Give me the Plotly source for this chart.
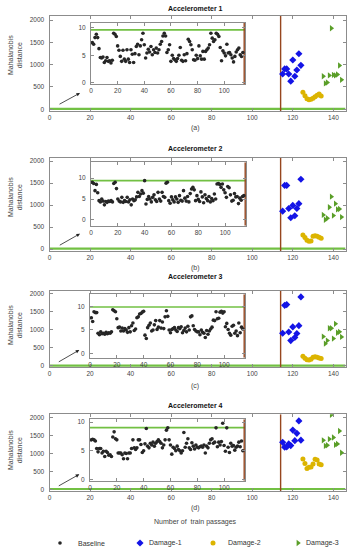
import plotly.graph_objects as go

W, H = 351, 550

# ---------------- data ----------------
baseline_x = list(range(1, 115))
baseline = [
    [7.3, 7.0, 8.2, 8.8, 8.2,
     6.2, 4.6, 4.5, 4.7, 3.7, 4.0, 4.6, 3.9, 4.0, 3.6, 4.1,
     9.0, 8.8, 8.4, 6.7,
     5.9, 4.8, 3.9, 5.9, 4.3, 3.9, 6.0, 4.3, 3.7, 6.0,
     5.2, 3.7, 5.3, 6.6, 7.0, 5.1, 6.7, 7.8, 9.0, 6.9,
     4.5, 5.4, 6.1, 5.6, 6.6, 5.1, 6.0, 5.5, 6.3, 5.4,
     6.0, 7.0, 7.5, 8.5, 9.0, 8.5, 5.5, 6.0, 6.9, 3.9,
     5.0, 4.4, 4.2, 3.9, 4.4, 5.0, 6.4, 4.1, 3.9, 5.1,
     4.0, 5.3, 7.9, 7.5, 6.9, 6.0, 4.2, 4.1, 5.0, 4.4,
     6.7, 4.9, 4.3, 5.7, 4.3, 5.7, 6.0, 6.3, 6.9, 9.0,
     8.1, 7.5, 7.8, 9.0, 8.8, 8.4, 6.4, 4.0, 5.8, 5.4,
     4.9, 7.0, 5.4, 5.5, 5.1, 4.5, 3.8, 4.8, 5.6, 6.0, 6.3, 5.1, 4.8, 5.5],
    [9.0, 8.7, 7.0, 8.5, 6.5,
     4.6, 4.3, 5.0, 4.5, 3.6, 4.4, 4.2, 4.5, 4.4, 4.6, 4.3,
     8.7, 9.0, 7.5, 5.0,
     4.5, 4.3, 5.4, 4.2, 4.6, 4.4, 5.4, 4.3, 4.8, 3.6,
     5.0, 4.6, 4.8, 5.5, 6.6, 5.6, 6.2, 7.0, 6.4, 9.4,
     3.8, 4.9, 5.6, 5.0, 4.3, 5.4, 6.0, 4.8, 4.4, 6.6,
     5.0, 4.5, 6.6, 5.6, 5.4, 8.8, 9.0, 4.6, 4.0, 5.5,
     4.8, 4.3, 5.5, 5.0, 4.2, 5.8, 4.7, 4.5, 7.0, 5.2,
     4.5, 5.6, 4.3, 6.3, 7.4, 7.8, 7.2, 4.6, 5.8, 4.9,
     4.4, 6.7, 5.5, 4.1, 6.0, 5.1, 4.6, 5.6, 4.3, 5.1,
     4.6, 6.2, 5.0, 8.6, 8.7, 8.5, 7.8, 8.6, 7.2, 6.5,
     5.4, 8.0, 7.7, 6.0, 4.5, 4.7, 6.3, 5.5, 5.6, 3.9, 5.2, 4.7, 5.6, 5.8],
    [7.6, 6.8, 8.9, 8.7, 8.7,
     4.3, 4.0, 4.6, 4.2, 4.3, 4.1, 4.5, 4.2, 4.4, 4.3, 4.6,
     9.3, 9.1, 8.9, 7.4,
     5.5, 5.6, 4.8, 5.4, 4.8, 5.3, 5.0, 4.5, 5.5, 4.6,
     5.9, 6.5, 4.9, 5.2, 7.6, 7.8, 8.4, 8.5, 8.8, 9.0,
     3.9, 3.2, 5.5, 6.0, 6.5, 4.8, 5.0, 6.1, 7.0, 5.1,
     5.6, 7.0, 5.4, 6.7, 5.3, 7.8, 9.1, 7.9, 5.0, 4.4,
     5.1, 5.3, 5.5, 5.0, 4.7, 5.5, 5.3, 5.7, 4.4, 4.9,
     5.4, 4.6, 5.8, 5.0, 7.8, 8.0, 5.9, 5.1, 4.8, 4.6,
     4.6, 4.0, 5.0, 4.5, 4.3, 3.4, 4.9, 4.1, 4.8, 5.2,
     5.6, 7.1, 7.0, 8.9, 7.4, 7.5, 8.8, 9.0, 8.6, 8.9,
     5.7, 6.4, 5.1, 4.3, 3.9, 5.8, 6.0, 4.3, 4.8, 3.8, 6.5, 4.4, 5.6, 5.2],
    [6.9, 7.0, 6.9, 6.7, 5.4,
     4.8, 5.4, 5.4, 4.6, 4.9, 4.0, 4.9, 4.7, 4.2, 4.3, 4.0,
     7.4, 8.3, 7.1, 6.9,
     4.6, 4.6, 4.6, 4.3, 3.6, 4.6, 4.5, 3.6, 4.6, 4.6,
     5.4, 6.9, 5.5, 5.2, 5.5, 6.9, 6.9, 6.1, 4.7, 5.0,
     6.2, 8.9, 5.8, 5.5, 6.3, 6.0, 6.5, 5.8, 6.3, 6.6,
     6.9, 6.6, 6.3, 5.5, 6.0, 6.9, 8.6, 9.0, 6.9, 6.0,
     4.4, 5.6, 5.4, 5.0, 5.8, 5.2, 5.0, 4.6, 5.0, 8.2,
     5.6, 6.3, 7.1, 5.5, 5.2, 6.4, 5.8, 5.3, 6.0, 5.6,
     5.5, 5.7, 5.8, 5.6, 6.0, 4.6, 5.8, 5.5, 6.3, 6.9,
     7.1, 6.3, 6.5, 9.0, 5.7, 6.5, 6.0, 6.6, 9.8, 5.9,
     4.9, 9.0, 5.6, 4.7, 6.3, 5.8, 5.9, 5.1, 5.6, 5.8, 6.5, 5.7, 6.7, 5.0],
]

damage1_x = [115, 116, 117, 118, 119, 120, 121, 122, 123, 124]
damage2_x = [125, 126, 127, 128, 129, 130, 131, 132, 133, 134]
damage3_x = [135, 136, 137, 138, 139, 140, 141, 142, 143, 144]

damage1 = [
    [790, 905, 905, 790, 630, 1105, 740, 880, 1245, 985],
    [860, 1445, 1445, 920, 710, 990, 755, 920, 1030, 1585],
    [900, 1670, 1690, 935, 700, 1075, 785, 895, 1110, 1900],
    [1305, 1170, 1175, 1260, 1215, 1645, 1350, 1555, 1900, 1365],
]
damage2 = [
    [380, 305, 235, 215, 225, 250, 280, 315, 345, 300],
    [320, 260, 200, 175, 185, 290, 300, 290, 270, 245],
    [265, 210, 170, 165, 185, 240, 255, 240, 220, 205],
    [840, 715, 580, 610, 620, 700, 835, 815, 700, 680],
]
damage3 = [
    [740, 580, 600, 760, 1815, 770, 760, 780, 980, 660],
    [775, 665, 700, 950, 1190, 760, 1030, 900, 910, 725],
    [810, 615, 700, 1040, 1040, 755, 1160, 915, 940, 800],
    [1360, 1205, 1225, 1395, 2070, 1440, 1235, 1260, 1620, 1015],
]

thresholds = [9.6, 9.4, 9.9, 9.05]
change_main = 114
change_inset = 115
titles = ["Accelerometer 1", "Accelerometer 2", "Accelerometer 3", "Accelerometer 4"]
sublabels = ["(a)", "(b)", "(c)", "(d)"]
main_xticks = [0, 20, 40, 60, 80, 100, 120, 140]
main_yticks = [0, 500, 1000, 1500, 2000]
inset_xticks = [0, 20, 40, 60, 80, 100]
inset_yticks = [0, 5, 10]
legend_names = ["Baseline", "Damage-1", "Damage-2", "Damage-3"]

# ---------------- layout geometry (pixels) ----------------
main_x_px = (49.5, 345.5)
main_y_px = [(16, 111), (157.7, 251), (290.7, 367.3), (414.3, 491)]
main_yrange = [[-38, 2090], [-45, 2075], [-36, 2072], [-47, 2083]]
inset_x_px = [(91, 245), (91, 246), (90, 245), (90, 245)]
inset_y_px = [(22.7, 84), (162.3, 225.7), (294.3, 357.7), (419.3, 480.7)]
inset_yrange = [[-0.2, 10.9], [-1.4, 13.8], [-0.9, 12.6], [-0.25, 10.5]]
title_y_px = [9, 148.5, 276, 405.5]
sub_y_px = [128, 268, 386, 508]
ytitle_y_px = [55, 197, 325, 450]
arrow_px = [((80, 93), (58, 105)), ((80, 233.7), (58.3, 246)),
            ((79.3, 350), (57.3, 362.7)), ((79.3, 474.3), (57.3, 486.7))]
legend_marker_px = [60, 140, 213, 298]
legend_text_px = [76, 147, 226, 304]
legend_y_px = 543


def fx(p):
    return p / W


def fy(p):
    return 1 - p / H


FONT = "Liberation Sans, Arial, sans-serif"
C_BASE = "#262626"
C_D1 = "#1414e6"
C_D2 = "#dcb400"
C_D3 = "#5a9e28"
C_GREEN = "#72c043"
C_BROWN = "#96461e"
AX_COL = "#8c8c8c"

fig = go.Figure()
layout = dict(
    width=W, height=H,
    margin=dict(l=0, r=0, t=0, b=0, autoexpand=False),
    paper_bgcolor="white", plot_bgcolor="white",
    font=dict(family=FONT, size=7, color="#333"),
    showlegend=False,
)
annotations = []

for i in range(4):
    m = i + 1          # main axis index
    n = i + 5          # inset axis index
    mx, my = f"x{m}", f"y{m}"
    ix, iy = f"x{n}", f"y{n}"

    axis_common = dict(showline=True, linecolor=AX_COL, linewidth=1, mirror="ticks",
                       ticks="inside", ticklen=3, tickcolor=AX_COL, showgrid=False,
                       zeroline=False, tickfont=dict(size=6.5, color="#444", family=FONT))
    layout[f"xaxis{m}"] = dict(axis_common, domain=[fx(main_x_px[0]), fx(main_x_px[1])],
                               range=[0, 146], tickvals=main_xticks, anchor=my)
    layout[f"yaxis{m}"] = dict(axis_common, domain=[fy(main_y_px[i][1]), fy(main_y_px[i][0])],
                               range=main_yrange[i], tickvals=main_yticks, anchor=mx,
                               ticklabelstandoff=3)
    layout[f"xaxis{n}"] = dict(axis_common, domain=[fx(inset_x_px[i][0]), fx(inset_x_px[i][1])],
                               range=[0, 115.6], tickvals=inset_xticks, anchor=iy)
    layout[f"yaxis{n}"] = dict(axis_common, domain=[fy(inset_y_px[i][1]), fy(inset_y_px[i][0])],
                               range=inset_yrange[i], tickvals=inset_yticks, anchor=ix,
                               ticklabelstandoff=3)

    # main: threshold line and change line
    fig.add_trace(go.Scatter(x=[0, 146], y=[thresholds[i]] * 2, mode="lines",
                             line=dict(color=C_GREEN, width=2.2), xaxis=mx, yaxis=my,
                             hoverinfo="skip"))
    fig.add_trace(go.Scatter(x=[change_main, change_main], y=main_yrange[i], mode="lines",
                             line=dict(color=C_BROWN, width=1.4), xaxis=mx, yaxis=my,
                             hoverinfo="skip"))
    fig.add_trace(go.Scatter(x=damage1_x, y=damage1[i], mode="markers", name="Damage-1",
                             marker=dict(symbol="diamond", size=5.5, color=C_D1),
                             xaxis=mx, yaxis=my))
    fig.add_trace(go.Scatter(x=damage2_x, y=damage2[i], mode="markers", name="Damage-2",
                             marker=dict(symbol="circle", size=5, color=C_D2),
                             xaxis=mx, yaxis=my))
    fig.add_trace(go.Scatter(x=damage3_x, y=damage3[i], mode="markers", name="Damage-3",
                             marker=dict(symbol="triangle-right", size=5.5, color=C_D3),
                             xaxis=mx, yaxis=my))
    # inset
    fig.add_trace(go.Scatter(x=[0, 115.6], y=[thresholds[i]] * 2, mode="lines",
                             line=dict(color=C_GREEN, width=1.6), xaxis=ix, yaxis=iy,
                             hoverinfo="skip"))
    fig.add_trace(go.Scatter(x=[change_inset, change_inset], y=inset_yrange[i], mode="lines",
                             line=dict(color=C_BROWN, width=1.4), xaxis=ix, yaxis=iy,
                             hoverinfo="skip"))
    fig.add_trace(go.Scatter(x=baseline_x, y=baseline[i], mode="markers", name="Baseline",
                             marker=dict(symbol="circle", size=3.6, color=C_BASE),
                             xaxis=ix, yaxis=iy))

    # texts
    cx = fx((main_x_px[0] + main_x_px[1]) / 2 - 2)
    annotations.append(dict(text=f"<b>{titles[i]}</b>", x=cx, y=fy(title_y_px[i]),
                            xref="paper", yref="paper", showarrow=False,
                            xanchor="center", yanchor="middle",
                            font=dict(size=7, color="#111")))
    annotations.append(dict(text=sublabels[i], x=cx, y=fy(sub_y_px[i]),
                            xref="paper", yref="paper", showarrow=False,
                            xanchor="center", yanchor="middle",
                            font=dict(size=7, color="#444")))
    annotations.append(dict(text="Mahalanobis<br>distance", x=fx(15), y=fy(ytitle_y_px[i]),
                            xref="paper", yref="paper", showarrow=False, textangle=-90,
                            xanchor="center", yanchor="middle",
                            font=dict(size=7, color="#444")))
    (hx, hy), (tx, ty) = arrow_px[i]
    annotations.append(dict(x=fx(hx), y=fy(hy), ax=tx - hx, ay=ty - hy,
                            xref="paper", yref="paper", axref="pixel", ayref="pixel",
                            showarrow=True, arrowhead=2, arrowsize=0.9, arrowwidth=0.8,
                            arrowcolor="#222", text=""))

annotations.append(dict(text="Number of  train passages", x=fx(195), y=fy(522),
                        xref="paper", yref="paper", showarrow=False,
                        xanchor="center", yanchor="middle",
                        font=dict(size=7, color="#444")))

# ---------------- hand-placed legend row ----------------
layout["xaxis9"] = dict(domain=[0, 1], range=[0, W], visible=False, fixedrange=True, anchor="y9")
layout["yaxis9"] = dict(domain=[0, fy(534)], range=[550, 534], visible=False, fixedrange=True,
                        anchor="x9")
leg_symbols = ["circle", "diamond", "circle", "triangle-right"]
leg_colors = [C_BASE, C_D1, C_D2, C_D3]
leg_sizes = [3.6, 5.5, 5, 5.5]
for k in range(4):
    fig.add_trace(go.Scatter(x=[legend_marker_px[k]], y=[legend_y_px], mode="markers",
                             marker=dict(symbol=leg_symbols[k], size=leg_sizes[k],
                                         color=leg_colors[k]),
                             xaxis="x9", yaxis="y9", hoverinfo="skip"))
    annotations.append(dict(text=legend_names[k], x=fx(legend_text_px[k]), y=fy(legend_y_px),
                            xref="paper", yref="paper", showarrow=False,
                            xanchor="left", yanchor="middle",
                            font=dict(size=7, color="#333")))

layout["annotations"] = annotations
fig.update_layout(**layout)
fig.write_html("out.html", config={"displayModeBar": False},
               post_script="document.body.style.margin='0';document.body.style.overflow='hidden';")
